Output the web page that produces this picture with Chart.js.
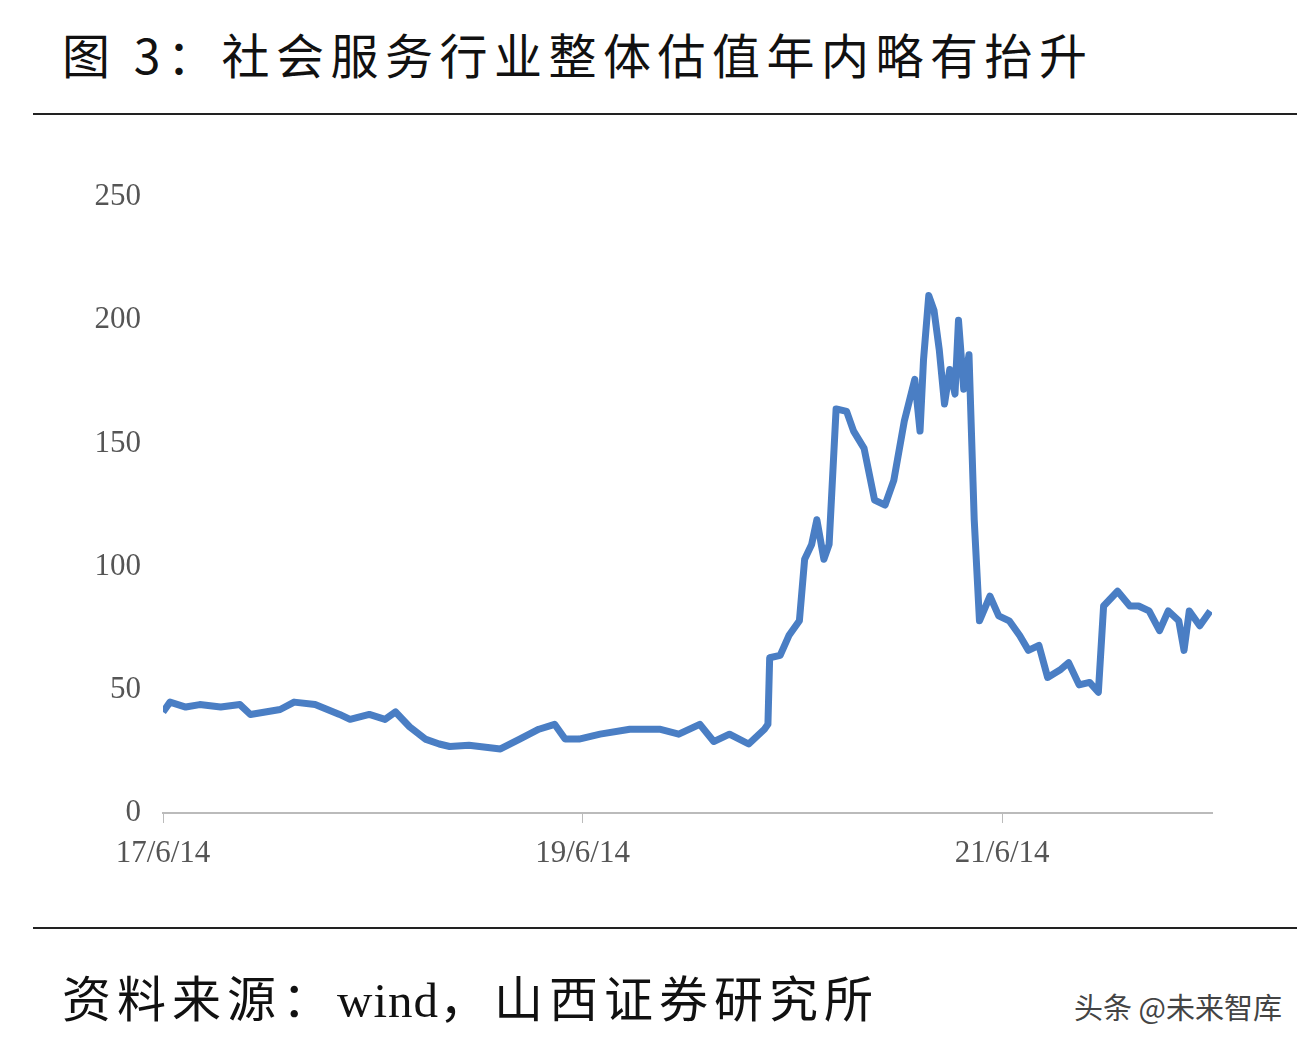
<!DOCTYPE html>
<html><head><meta charset="utf-8">
<script src="https://cdn.jsdelivr.net/npm/chart.js@4/dist/chart.umd.min.js"></script>
<style>
body{margin:0;width:1312px;height:1050px;background:#fff;position:relative;overflow:hidden;font-family:"Noto Sans CJK SC",sans-serif}
.title{position:absolute;left:62px;top:18px;font-size:48px;color:#111;letter-spacing:6.5px}
.rule{position:absolute;left:33px;width:1264px;height:2px;background:#222}
.src{position:absolute;left:62px;top:960px;font-size:49px;color:#111;letter-spacing:6px}
.src .w{font-family:"Liberation Serif",serif;letter-spacing:1px}
.wm{position:absolute;right:30px;top:985px;font-size:29px;color:#444}
#box{position:absolute;left:0;top:150px;width:1312px;height:740px}
</style></head><body>
<div class="title">图 3：社会服务行业整体估值年内略有抬升</div>
<div class="rule" style="top:113px"></div>
<div id="box"><canvas id="c"></canvas></div>
<div class="rule" style="top:927px"></div>
<div class="src">资料来源：<span class="w">wind</span>，山西证券研究所</div>
<div class="wm">头条 @未来智库</div>
<script>
// months since 2017-06-14
const months = [0,0.4,1.3,2.1,3.3,4.4,5.0,6.7,7.5,8.7,10.1,10.7,11.8,12.7,13.3,14.1,15.0,15.8,16.4,17.5,19.3,20.4,21.5,22.4,23.0,23.8,25.0,26.7,28.4,29.5,30.7,31.5,32.4,33.5,34.4,34.6,34.7,35.3,35.8,36.4,36.7,37.1,37.4,37.8,38.1,38.5,39.1,39.5,40.1,40.7,41.3,41.8,42.4,43.0,43.3,43.5,43.8,44.1,44.4,44.7,45.0,45.3,45.5,45.8,46.1,46.4,46.7,47.3,47.8,48.4,49.0,49.5,50.1,50.6,51.3,51.8,52.4,53.0,53.5,53.8,54.6,55.3,55.8,56.4,57.0,57.5,58.1,58.4,58.7,59.3,59.9];
const pe = [41,45,43,44,43,44,40,42,45,44,40,38,40,38,41,35,30,28,27,27.5,26,30,34,36,30,30,32,34,34,32,36,29,32,28,34,36,63,64,72,78,103,109,119,103,109,164,163,155,148,127,125,135,159,176,155,184,210,204,188,166,180,170,200,172,186,119,78,88,80,78,72,66,68,55,58,61,52,53,49,84,90,84,84,82,74,82,78,66,82,76,82];
const tickMonths = [0,24,48];
const tickLabels = ['17/6/14','19/6/14','21/6/14'];
const yTicks = [0,50,100,150,200,250];

const serif = {family:'"Liberation Serif","DejaVu Serif",serif',size:31};
new Chart(document.getElementById('c'),{
  type:'line',
  data:{datasets:[{data:months.map((m,i)=>({x:m,y:pe[i]})),borderColor:'#4a7ec4',borderWidth:7,pointRadius:0,tension:0,borderJoinStyle:'round'}]},
  options:{
    responsive:true,maintainAspectRatio:false,animation:false,
    layout:{padding:{top:47,right:100,left:0,bottom:0}},
    plugins:{legend:{display:false},tooltip:{enabled:false}},
    scales:{
      x:{type:'linear',min:0,max:60,
        afterBuildTicks:s=>{s.ticks=tickMonths.map(v=>({value:v}));},
        afterFit:s=>{s.height=77;},
        ticks:{font:serif,color:'#555',padding:12,maxRotation:0,callback:(v)=>tickLabels[tickMonths.indexOf(v)]},
        grid:{display:true,drawOnChartArea:false,drawTicks:true,tickLength:10,color:'#bbb'},
        border:{color:'#bbb',width:2}},
      y:{min:0,max:250,
        afterBuildTicks:s=>{s.ticks=yTicks.map(v=>({value:v}));},
        afterFit:s=>{s.width=163;},
        ticks:{font:serif,color:'#555',padding:14},
        grid:{display:false},border:{display:false}}
    }
  }
});
</script>
</body></html>
